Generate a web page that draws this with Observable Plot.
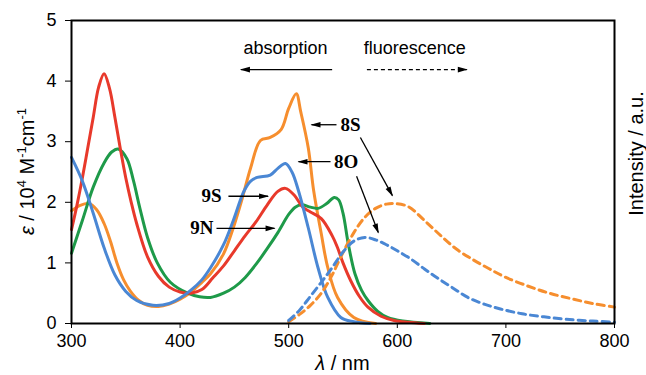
<!DOCTYPE html>
<html><head><meta charset="utf-8">
<script src="https://cdn.jsdelivr.net/npm/d3@7"></script>
<script src="https://cdn.jsdelivr.net/npm/@observablehq/plot@0.6"></script>
<style>body{margin:0;background:#fff}</style>
</head><body><div id="chart"></div>
<script>
// ---- data ----
const xTicks = [300, 400, 500, 600, 700, 800];
const yTicks = [0, 1, 2, 3, 4, 5];

// absorption spectra, ε / 10^4 M^-1 cm^-1
const wl9S = [300,305,310,315,320,325,330,335,340,345,350,355,360,370,380,390,400,410,420,430,440,450,460,470,480,490,497,505,513,520,530,540,545,550,557,565,573,585,597,610,625];
const eps9S = [1.55,1.95,2.4,2.9,3.4,3.9,4.12,3.88,3.4,2.88,2.4,2.0,1.65,1.1,0.78,0.6,0.52,0.5,0.56,0.75,0.95,1.2,1.45,1.68,1.95,2.18,2.23,2.12,1.92,1.84,1.73,1.45,1.25,1.0,0.71,0.45,0.27,0.12,0.05,0.02,0.0];

const wl9N = [300,310,320,330,337,343,351,357,363,370,379,391,407,418,428,440,450,460,470,480,490,500,506,512,520,527,535,542,546,550,555,561,567,573,582,591,605,630];
const eps9N = [1.16,1.7,2.25,2.65,2.83,2.88,2.72,2.36,1.9,1.42,1.0,0.68,0.5,0.44,0.43,0.5,0.6,0.76,0.98,1.23,1.5,1.8,1.92,1.96,1.92,1.9,1.98,2.08,2.04,1.82,1.3,0.82,0.55,0.38,0.2,0.1,0.04,0.0];

const wl8O = [300,310,320,330,340,350,360,375,390,400,410,420,428,440,449,459,465,471,483,490,497,503,509,518,527,536,548,560,575];
const eps8O = [2.74,2.35,1.82,1.25,0.8,0.53,0.38,0.3,0.33,0.42,0.55,0.72,0.92,1.3,1.7,2.19,2.35,2.41,2.45,2.56,2.64,2.5,2.19,1.58,0.92,0.43,0.1,0.03,0.0];

const wl8S = [300,308,316,323,330,336,342,348,354,362,370,380,390,400,410,420,428,440,449,457,465,474,483,493,500,507,511,518,523,530,536,545,560,580];
const eps8S = [1.86,1.95,1.98,1.88,1.65,1.35,0.99,0.72,0.54,0.38,0.3,0.28,0.32,0.4,0.52,0.68,0.82,1.15,1.58,2.05,2.57,3.02,3.07,3.2,3.55,3.79,3.5,2.9,2.19,1.48,0.92,0.43,0.1,0.0];

// fluorescence spectra (a.u., drawn on the same axis)
const wlF8S = [500,510,520,530,540,548,560,570,580,590,597,610,625,640,655,670,685,700,720,740,760,780,800];
const intF8S = [0.03,0.15,0.3,0.5,0.8,1.1,1.5,1.75,1.9,1.97,1.98,1.93,1.7,1.45,1.22,1.05,0.9,0.76,0.62,0.5,0.41,0.33,0.27];
const wlF8O = [500,510,520,530,540,550,560,570,580,590,600,612,625,637,650,665,680,695,715,735,755,780,800];
const intF8O = [0.05,0.22,0.45,0.68,0.92,1.18,1.36,1.42,1.38,1.3,1.2,1.07,0.9,0.75,0.6,0.43,0.32,0.24,0.16,0.11,0.07,0.04,0.02];

// annotations
const legendWords = ["absorption", "fluorescence"];
const legendWl = [497, 616];
const legendEps = [4.55, 4.55];

const compoundNames = ["8S", "8O", "9S", "9N"];
const compoundWl = [557, 553, 429, 420];
const compoundEps = [3.28, 2.67, 2.1, 1.57];

const arrowWl1 = [540, 544, 538.5, 444.5, 433.5, 566, 562.5];
const arrowWl2 = [456, 521, 509, 481, 487, 595.5, 582.5];
const arrowEps1 = [4.19, 3.28, 2.67, 2.1, 1.57, 3.07, 2.43];
const arrowEps2 = [4.19, 3.28, 2.67, 2.1, 1.57, 2.11, 1.5];

const dashArrowWl = [572, 664];
const dashArrowEps = [4.19, 4.19];

// ---- build tables ----
const zip = (xs, ys, name) => xs.map((x, i) => ({wl: x, v: ys[i], name}));
const colors = {"9S": "#e8392b", "9N": "#1e9a49", "8O": "#4a87d4", "8S": "#f68e2e"};
const abs = [
  ...zip(wl8S, eps8S, "8S"),
  ...zip(wl9N, eps9N, "9N"),
  ...zip(wl9S, eps9S, "9S"),
  ...zip(wl8O, eps8O, "8O")
];
const fl = [
  ...zip(wlF8S, intF8S, "8S"),
  ...zip(wlF8O, intF8O, "8O")
];
const legendData = legendWords.map((t, i) => ({t, wl: legendWl[i], v: legendEps[i]}));
const nameData = compoundNames.map((t, i) => ({t, wl: compoundWl[i], v: compoundEps[i]}));
const arrows = arrowWl1.map((x1, i) => ({x1, x2: arrowWl2[i], y1: arrowEps1[i], y2: arrowEps2[i], dash: false}));
const dashArrow = [{x1: dashArrowWl[0], x2: dashArrowWl[1], y1: dashArrowEps[0], y2: dashArrowEps[1], dash: true}];
const allArrows = [...arrows, ...dashArrow];

const W = 646, H = 375, ML = 71, MR = 32, MT = 20, MB = 52;
const pxPerX = (W - ML - MR) / (xTicks[xTicks.length - 1] - xTicks[0]);
const pxPerY = (H - MT - MB) / (yTicks[yTicks.length - 1] - yTicks[0]);
// direction of each arrow on screen, for orienting its head
const headAngle = d => Math.atan2(-(d.y2 - d.y1) * pxPerY, (d.x2 - d.x1) * pxPerX) * 180 / Math.PI;
// narrow filled arrowhead with its tip at the origin, pointing along +x
const headSymbol = {draw(ctx) { ctx.moveTo(1, 0); ctx.lineTo(-9, -2.8); ctx.lineTo(-9, 2.8); ctx.closePath(); }};

const chart = Plot.plot({
  width: W, height: H,
  marginLeft: ML, marginRight: MR, marginTop: MT, marginBottom: MB,
  style: {fontFamily: "'Liberation Sans', Arial, sans-serif", fontSize: "18px", color: "black", background: "white"},
  x: {domain: [300, 800]},
  y: {domain: [0, 5]},
  marks: [
    Plot.axisX({ticks: xTicks, tickSize: 5, tickPadding: 6, label: null, tickFormat: d => String(d)}),
    Plot.axisY({ticks: yTicks, tickSize: 6, tickPadding: 9, label: null, tickFormat: d => String(d)}),
    Plot.line(abs, {x: "wl", y: "v", z: "name", stroke: d => colors[d.name], strokeWidth: 3, curve: "catmull-rom"}),
    Plot.line(fl, {x: "wl", y: "v", z: "name", stroke: d => colors[d.name], strokeWidth: 3, strokeDasharray: "7,5", curve: "catmull-rom"}),
    Plot.frame({stroke: "black", strokeWidth: 2}),
    Plot.text(legendData, {x: "wl", y: "v", text: "t", fontSize: 18, fill: "black"}),
    Plot.text(nameData, {x: "wl", y: "v", text: "t", fontSize: 19, fontWeight: "bold", fontFamily: "'Liberation Serif', 'Times New Roman', serif", fill: "black"}),
    Plot.link(arrows, {x1: "x1", y1: "y1", x2: "x2", y2: "y2", stroke: "black", strokeWidth: 1.3}),
    Plot.link(dashArrow, {x1: "x1", y1: "y1", x2: "x2", y2: "y2", stroke: "black", strokeWidth: 1.3, strokeDasharray: "4,3"}),
    Plot.dot(allArrows, {x: "x2", y: "y2", symbol: headSymbol, rotate: headAngle, fill: "black", stroke: "none"})
  ]
});
document.getElementById("chart").appendChild(chart);

// axis titles with italic symbols and superscripts
const svg = d3.select(chart);
const font = "'Liberation Sans', Arial, sans-serif";
svg.append("text")
  .attr("transform", `translate(34,${MT + (H - MT - MB) / 2}) rotate(-90)`)
  .attr("text-anchor", "middle").attr("font-family", font).attr("font-size", 20).attr("fill", "black")
  .html(`<tspan font-style="italic">ε</tspan> / 10<tspan dy="-8" font-size="13">4</tspan><tspan dy="8"> M</tspan><tspan dy="-8" font-size="13">-1</tspan><tspan dy="8">cm</tspan><tspan dy="-8" font-size="13">-1</tspan>`);
svg.append("text")
  .attr("x", ML + (W - ML - MR) / 2).attr("y", H - 5)
  .attr("text-anchor", "middle").attr("font-family", font).attr("font-size", 20).attr("fill", "black")
  .html(`<tspan font-style="italic">λ</tspan> / nm`);
svg.append("text")
  .attr("transform", `translate(${W - 3},${MT + (H - MT - MB) / 2 - 18}) rotate(-90)`)
  .attr("text-anchor", "middle").attr("font-family", font).attr("font-size", 20).attr("fill", "black")
  .text("Intensity / a.u.");
</script>
</body></html>
